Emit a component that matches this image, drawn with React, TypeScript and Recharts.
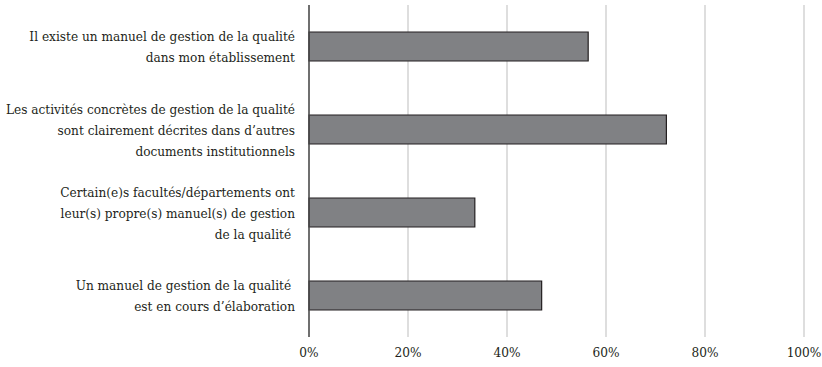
import React from "react";
import { BarChart, Bar, XAxis, YAxis, CartesianGrid } from "recharts";

const categories = [
  "Il existe un manuel de gestion de la qualité\ndans mon établissement",
  "Les activités concrètes de gestion de la qualité\nsont clairement décrites dans d’autres\ndocuments institutionnels",
  "Certain(e)s facultés/départements ont\nleur(s) propre(s) manuel(s) de gestion\nde la qualité ",
  "Un manuel de gestion de la qualité \nest en cours d’élaboration",
];
const shares = [56.4, 72.2, 33.5, 47.0];
const xTicks = [0, 20, 40, 60, 80, 100];

const data = categories.map((name, i) => ({ name, value: shares[i] }));

const FONT = '"DejaVu Serif Condensed", "DejaVu Serif", serif';
const TEXT = "#231f20";
const textStyle = { fontFamily: FONT, fontStretch: "condensed", fontSize: 13.5 } as const;

function CategoryTick(props: any) {
  const { x, y, payload } = props;
  const lines: string[] = String(payload.value).split("\n");
  const lh = 21;
  const startDy = -((lines.length - 1) * lh) / 2;
  return (
    <text x={x - 6} y={y} textAnchor="end" fill={TEXT} style={{ ...textStyle, whiteSpace: "pre" }}>
      {lines.map((l, i) => (
        <tspan key={i} x={x - 6} dy={i === 0 ? startDy : lh} dominantBaseline="central">
          {l}
        </tspan>
      ))}
    </text>
  );
}

export default function App() {
  return (
    <div style={{ position: "absolute", left: 0, top: 0, background: "#fff" }}>
      <BarChart
        width={822}
        height={367}
        data={data}
        layout="vertical"
        margin={{ top: 5, right: 18, bottom: 5, left: 0 }}
        barCategoryGap={27}
      >
        <CartesianGrid horizontal={false} stroke="#bdbdbd" strokeWidth={1} />
        <XAxis
          type="number"
          domain={[0, 100]}
          ticks={xTicks}
          tickFormatter={(v: number) => `${v}%`}
          axisLine={false}
          tickLine={false}
          tickMargin={4}
          height={25}
          tick={{ fill: TEXT, style: textStyle }}
        />
        <YAxis
          type="category"
          dataKey="name"
          width={309}
          axisLine={{ stroke: "#4a4a4a", strokeWidth: 1.5 }}
          tickLine={false}
          tick={<CategoryTick />}
          interval={0}
        />
        <Bar
          dataKey="value"
          fill="#808184"
          stroke="#231f20"
          strokeWidth={1.2}
          barSize={29}
          isAnimationActive={false}
        />
      </BarChart>
    </div>
  );
}
